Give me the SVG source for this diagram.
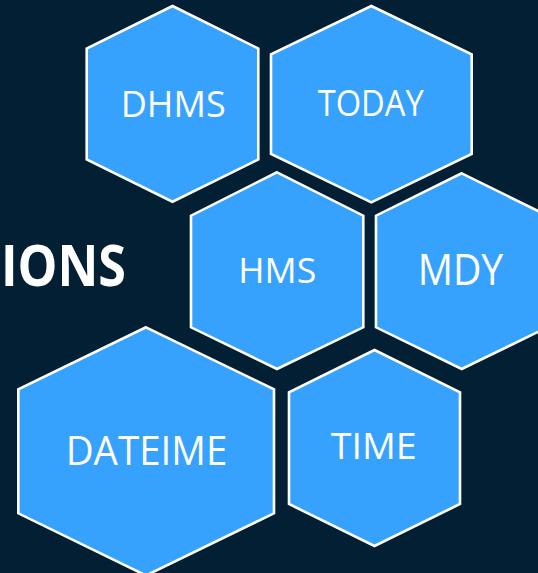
<svg xmlns="http://www.w3.org/2000/svg" width="538" height="573" viewBox="0 0 538 573">
<style>
.hex{fill:#36a2fd;stroke:#ffffff;stroke-width:2.6;stroke-linejoin:miter}
.lbl{font-family:"Open Sans","Liberation Sans",Arial,sans-serif;fill:#ffffff}
.title{font-family:"Open Sans","Liberation Sans",Arial,sans-serif;font-weight:bold;fill:#ffffff}
</style>
<rect width="538" height="573" fill="#031f33"/>
<text class="title" x="1" y="286" font-size="57" textLength="125" lengthAdjust="spacingAndGlyphs">IONS</text>
<g id="connectors"></g>
<g id="dhms">
<polygon class="hex" points="172.5,6 258.3,48.5 258.3,159.5 172.5,201.7 86.7,159.5 86.7,48.5"/>
<text class="lbl" x="120.7" y="116.7" font-size="36" textLength="105" lengthAdjust="spacingAndGlyphs">DHMS</text>
</g>
<g id="today">
<polygon class="hex" points="371.3,6 471.7,54.3 471.7,154 371.3,202.3 271,154 271,54.3"/>
<text class="lbl" x="317.7" y="116" font-size="36" textLength="106" lengthAdjust="spacingAndGlyphs">TODAY</text>
</g>
<g id="hms">
<polygon class="hex" points="277,172.3 363.3,215.7 363.3,327.3 277,369 191,327.3 191,215.7"/>
<text class="lbl" x="238.3" y="282.7" font-size="35" textLength="78" lengthAdjust="spacingAndGlyphs">HMS</text>
</g>
<g id="mdy">
<polygon class="hex" points="461.7,173.3 547.5,215.7 547.5,327.3 461.7,369 376,327.3 376,215.7"/>
<text class="lbl" x="417.7" y="285" font-size="43" textLength="85.6" lengthAdjust="spacingAndGlyphs">MDY</text>
</g>
<g id="dateime">
<polygon class="hex" points="146,327.3 274,389.3 274,513.3 146,575.5 18.3,513.3 18.3,389.3"/>
<text class="lbl" x="65.7" y="465" font-size="39.5" textLength="161.6" lengthAdjust="spacingAndGlyphs">DATEIME</text>
</g>
<g id="time">
<polygon class="hex" points="374.5,350 460,392.3 460,504 374.5,546 289,504 289,392.3"/>
<text class="lbl" x="330.7" y="459.3" font-size="36" textLength="86" lengthAdjust="spacingAndGlyphs">TIME</text>
</g>
</svg>
